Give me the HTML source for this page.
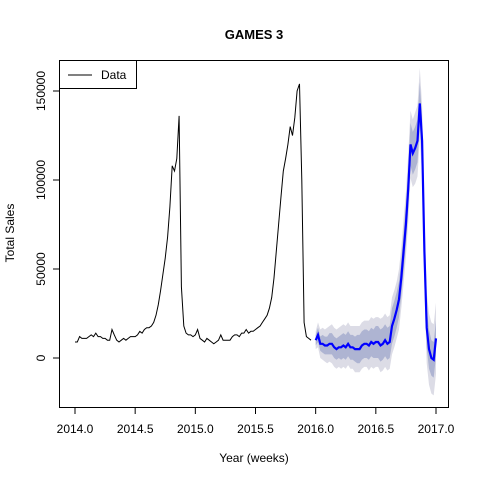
<!DOCTYPE html>
<html><head><meta charset="utf-8"><style>
body{margin:0;background:#fff}
svg{display:block;font-family:"Liberation Sans",Arial,sans-serif}
</style></head><body>
<svg id="c" width="480" height="480" viewBox="0 0 480 480">
<rect width="480" height="480" fill="#fff"/>
<text x="254" y="39" text-anchor="middle" font-size="13" font-weight="bold">GAMES 3</text>
<text x="254" y="462" text-anchor="middle" font-size="12">Year (weeks)</text>
<text transform="translate(14,233) rotate(-90)" text-anchor="middle" font-size="12">Total Sales</text>
<g id="bands"></g><g id="lines"></g><g id="axes"></g>
<rect x="59.5" y="60.5" width="389" height="347" fill="none" stroke="#000"/>
<g>
<rect x="59.5" y="60.5" width="77" height="28" fill="#fff" stroke="#000"/>
<line x1="68" y1="75" x2="92" y2="75" stroke="#000"/>
<text x="101" y="79" font-size="12">Data</text>
</g>
</svg>
<script>
const xTicks=[2014.0,2014.5,2015.0,2015.5,2016.0,2016.5,2017.0];
const xTickLabels=["2014.0","2014.5","2015.0","2015.5","2016.0","2016.5","2017.0"];
const yTicks=[0,50000,100000,150000];
const yTickLabels=["0","50000","100000","150000"];
const histStart=2014.0;
const histK=[9,9,12,11,11,11,12,13,12,14,12,12,11,11,10,10,16,13,10,9,10,11,10,11,12,12,12,13,15,14,16,17,17,18,20,24,30,38,47,56,68,85,108,105,112,136,40,18,14,13,13,12,
13,16,11,10,9,11,10,9,8,9,10,13,10,10,10,10,12,13,13,12,14,14,16,14,15,15,16,17,18,20,22,24,28,34,45,60,75,90,105,112,120,130,125,135,150,154,100,20,12,11,10];
const fcStart=2016.0;
const fcK=[10,13,8,8,7,7,8,8,6,5,6,6,7,6,8,6,6,5,5,5,7,8,8,7,9,8,9,9,7,8,10,8,9,18,22,27,33,45,60,75,95,120,115,118,122,143,122,60,17,5,0,-1,11];
const innerK=[3,4,4,5,5,5,6,6,6,6,6,7,7,7,7,7,7,7,8,8,8,8,8,8,8,8,9,9,9,9,9,9,9,10,10,10,10,10,11,11,11,12,12,12,12,12,12,12,11,11,10,10,10];
const outerK=[5,7,8,9,9,10,10,11,11,11,11,12,12,12,12,12,12,13,13,13,13,13,13,14,14,14,14,14,15,15,15,15,15,16,16,16,17,17,18,18,19,19,19,20,20,20,20,20,20,20,20,20,20];
const X=v=>75+(v-2014)*120.33;
const Y=v=>358-v*89/50000;
const NS="http://www.w3.org/2000/svg";
function mk(t,a,p){const e=document.createElementNS(NS,t);for(const k in a)e.setAttribute(k,a[k]);p.appendChild(e);return e;}
const bands=document.getElementById('bands'),lines=document.getElementById('lines'),axes=document.getElementById('axes');
function band(w,fill,name){
  let up=[],dn=[];
  fcK.forEach((v,i)=>{const x=X(fcStart+i/52);up.push(x.toFixed(1)+","+Y((v+w[i])*1000).toFixed(1));dn.unshift(x.toFixed(1)+","+Y((v-w[i])*1000).toFixed(1));});
  const p=mk('polygon',{points:up.concat(dn).join(' '),fill:fill},bands);
  
  
}
band(outerK,'#dcdce6','band-95');
band(innerK,'#aeb4d2','band-80');
const hp=histK.map((v,i)=>X(histStart+i/52).toFixed(1)+","+Y(v*1000).toFixed(1)).join(' ');
const h=mk('polyline',{points:hp,fill:'none',stroke:'#000','stroke-width':1},lines);


const fp=fcK.map((v,i)=>X(fcStart+i/52).toFixed(1)+","+Y(v*1000).toFixed(1)).join(' ');
const f=mk('polyline',{points:fp,fill:'none',stroke:'#0000ff','stroke-width':2.2},lines);


mk('line',{x1:X(xTicks[0]),x2:X(xTicks[xTicks.length-1]),y1:407.5,y2:407.5,stroke:'#000'},axes);
xTicks.forEach((t,i)=>{const x=X(t);
  mk('line',{x1:x,x2:x,y1:407.5,y2:414,stroke:'#000'},axes);
  const tx=mk('text',{x:x,y:433,'text-anchor':'middle','font-size':12},axes);tx.textContent=xTickLabels[i];
  
  
});
mk('line',{x1:59.5,x2:59.5,y1:Y(yTicks[0]),y2:Y(yTicks[yTicks.length-1]),stroke:'#000'},axes);
yTicks.forEach((t,i)=>{const y=Y(t);
  mk('line',{x1:53,x2:59.5,y1:y,y2:y,stroke:'#000'},axes);
  const tx=mk('text',{transform:`translate(45,${y}) rotate(-90)`,'text-anchor':'middle','font-size':12},axes);tx.textContent=yTickLabels[i];
  
  
});
</script>
</body></html>
